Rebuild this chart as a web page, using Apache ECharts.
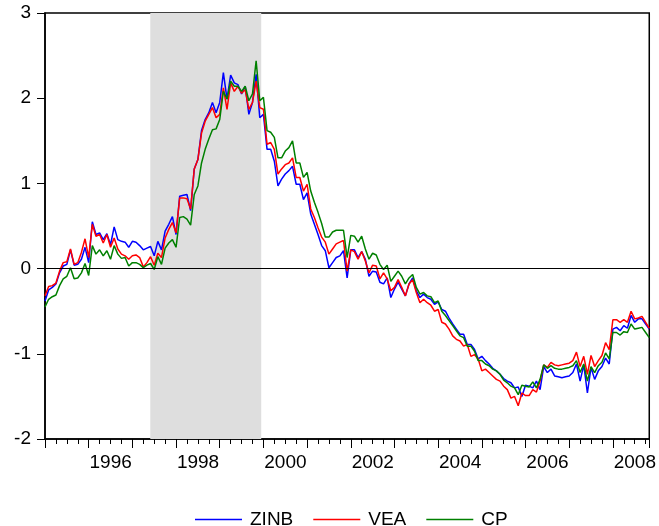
<!DOCTYPE html>
<html>
<head>
<meta charset="utf-8">
<script src="https://cdn.jsdelivr.net/npm/echarts@6/dist/echarts.min.js"></script>
<style>
html,body{margin:0;padding:0;background:#fff;}
#chart{width:659px;height:526px;}
</style>
</head>
<body>
<div id="chart"></div>
<script>
// Monthly observations starting 1995M01
const startYear = 1995;
const seriesNames = ['ZINB', 'VEA', 'CP'];
const seriesColors = ['#0000ff', '#ff0000', '#008000'];
const yTicks = [-2, -1, 0, 1, 2, 3];
const xLabelYears = [1996, 1998, 2000, 2002, 2004, 2006, 2008];
const shadeStart = 1997.41;
const shadeEnd = 1999.95;

const zinb = [
 -0.38,-0.25,-0.22,-0.18,-0.05,0.03,0.05,0.22,0.04,0.05,0.11,0.25,
 0.07,0.55,0.40,0.42,0.34,0.41,0.28,0.49,0.34,0.32,0.31,0.25,
 0.32,0.31,0.27,0.22,0.24,0.26,0.15,0.32,0.22,0.44,0.52,0.61,
 0.40,0.85,0.86,0.87,0.68,1.17,1.28,1.62,1.75,1.83,1.95,1.83,
 1.95,2.30,1.99,2.27,2.18,2.16,2.05,2.14,1.81,1.95,2.28,1.77,
 1.81,1.40,1.40,1.26,0.97,1.05,1.11,1.15,1.20,0.99,0.99,0.81,
 0.89,0.64,0.52,0.40,0.27,0.21,0.01,0.07,0.13,0.15,0.21,-0.11,
 0.22,0.22,0.13,0.20,0.11,-0.09,-0.03,-0.04,-0.16,-0.18,-0.11,-0.34,
 -0.24,-0.16,-0.24,-0.32,-0.18,-0.11,-0.26,-0.34,-0.30,-0.34,-0.36,-0.42,
 -0.39,-0.48,-0.50,-0.58,-0.65,-0.71,-0.77,-0.77,-0.89,-0.89,-0.95,-1.06,
 -1.03,-1.08,-1.12,-1.17,-1.20,-1.24,-1.29,-1.32,-1.34,-1.40,-1.39,-1.50,
 -1.37,-1.38,-1.40,-1.32,-1.42,-1.15,-1.22,-1.18,-1.26,-1.27,-1.28,-1.27,
 -1.26,-1.22,-1.12,-1.32,-1.13,-1.46,-1.16,-1.30,-1.20,-1.15,-1.05,-1.12,
 -0.71,-0.69,-0.73,-0.67,-0.70,-0.55,-0.63,-0.59,-0.59,-0.65,-0.71
];
const vea = [
 -0.32,-0.21,-0.20,-0.17,-0.03,0.07,0.08,0.23,0.05,0.07,0.19,0.35,
 0.13,0.52,0.38,0.40,0.30,0.40,0.25,0.36,0.23,0.17,0.15,0.11,
 0.15,0.16,0.13,0.02,0.07,0.14,0.04,0.18,0.13,0.36,0.46,0.54,
 0.42,0.83,0.83,0.82,0.70,1.17,1.28,1.59,1.73,1.81,1.89,1.77,
 1.81,2.12,1.87,2.18,2.08,2.14,2.06,2.10,1.87,1.95,2.20,1.89,
 1.87,1.46,1.48,1.40,1.11,1.17,1.22,1.24,1.30,1.07,1.07,0.91,
 0.99,0.70,0.60,0.48,0.37,0.31,0.17,0.23,0.29,0.31,0.33,-0.03,
 0.22,0.20,0.11,0.20,0.09,-0.05,0.04,0.03,-0.12,-0.05,-0.12,-0.26,
 -0.22,-0.13,-0.22,-0.32,-0.18,-0.13,-0.28,-0.40,-0.36,-0.40,-0.43,-0.50,
 -0.48,-0.63,-0.65,-0.71,-0.79,-0.83,-0.85,-0.91,-0.89,-1.03,-1.01,-1.06,
 -1.20,-1.18,-1.22,-1.26,-1.30,-1.32,-1.38,-1.42,-1.52,-1.50,-1.61,-1.46,
 -1.49,-1.49,-1.42,-1.45,-1.32,-1.13,-1.16,-1.10,-1.13,-1.14,-1.13,-1.12,
 -1.11,-1.08,-0.98,-1.15,-1.03,-1.24,-1.02,-1.15,-1.08,-1.02,-0.87,-0.95,
 -0.60,-0.60,-0.63,-0.60,-0.63,-0.50,-0.59,-0.58,-0.56,-0.63,-0.70
];
const cp = [
 -0.45,-0.36,-0.33,-0.31,-0.20,-0.12,-0.09,0.01,-0.12,-0.11,-0.05,0.06,
 -0.08,0.27,0.17,0.22,0.15,0.21,0.11,0.27,0.17,0.12,0.13,0.03,
 0.07,0.07,0.05,0.01,0.04,0.06,-0.01,0.14,0.05,0.24,0.30,0.34,
 0.25,0.60,0.61,0.58,0.51,0.87,0.97,1.24,1.40,1.52,1.63,1.64,
 1.75,2.08,1.99,2.20,2.14,2.14,2.08,2.14,1.97,2.05,2.44,1.97,
 2.01,1.62,1.60,1.54,1.30,1.30,1.38,1.42,1.50,1.24,1.24,1.07,
 1.13,0.91,0.78,0.66,0.53,0.37,0.37,0.43,0.45,0.45,0.45,0.13,
 0.39,0.38,0.31,0.38,0.23,0.11,0.18,0.16,0.05,-0.01,0.04,-0.15,
 -0.09,-0.03,-0.09,-0.18,-0.11,-0.07,-0.22,-0.30,-0.28,-0.32,-0.33,-0.40,
 -0.38,-0.50,-0.55,-0.61,-0.67,-0.73,-0.79,-0.81,-0.91,-0.91,-0.97,-1.08,
 -1.08,-1.12,-1.14,-1.18,-1.20,-1.24,-1.31,-1.34,-1.38,-1.40,-1.48,-1.37,
 -1.38,-1.39,-1.33,-1.40,-1.30,-1.13,-1.17,-1.14,-1.17,-1.18,-1.18,-1.17,
 -1.16,-1.14,-1.08,-1.22,-1.12,-1.32,-1.15,-1.22,-1.14,-1.10,-0.99,-1.06,
 -0.75,-0.75,-0.78,-0.74,-0.75,-0.65,-0.71,-0.70,-0.69,-0.75,-0.81
];

// dates (decimal years) for each monthly observation
const dates = zinb.map((_, i) => startYear + i / 12);
const allSeries = [zinb, vea, cp];

const chart = echarts.init(document.getElementById('chart'), null, {renderer: 'canvas'});
const FONT = 'Liberation Sans, Arial, Helvetica, sans-serif';

const lineSeries = allSeries.map((vals, k) => ({
  name: seriesNames[k],
  type: 'line',
  data: vals.map((v, i) => [dates[i], v]),
  symbol: 'none',
  showSymbol: false,
  z: 3,
  lineStyle: {color: seriesColors[k], width: 1.5},
  itemStyle: {color: seriesColors[k]},
  emphasis: {disabled: true},
  animation: false
}));

const helper = {
  name: '_shade',
  type: 'line',
  data: [],
  z: 1,
  silent: true,
  animation: false,
  markArea: {
    silent: true,
    itemStyle: {color: '#dedede'},
    data: [[{xAxis: shadeStart}, {xAxis: shadeEnd}]]
  },
  markLine: {
    silent: true,
    symbol: ['none', 'none'],
    label: {show: false},
    lineStyle: {color: '#000', width: 1.2, type: 'solid'},
    data: [{yAxis: 0}]
  }
};

chart.setOption({
  animation: false,
  backgroundColor: '#ffffff',
  grid: {left: 45, right: 9, top: 13, bottom: 87, show: true, borderColor: '#000', borderWidth: 1.5, backgroundColor: 'transparent'},
  legend: {
    data: seriesNames.map((n, k) => ({name: n, icon: 'rect', itemStyle: {color: seriesColors[k]}})),
    left: 190,
    top: 505,
    itemWidth: 47,
    itemHeight: 1.5,
    itemGap: 20,
    textStyle: {fontFamily: FONT, fontSize: 19, color: '#000', padding: [0, 0, 0, 3]}
  },
  xAxis: {
    type: 'value',
    min: startYear,
    max: startYear + (zinb.length - 1) / 12,
    interval: 1,
    axisLine: {show: true, onZero: false, lineStyle: {color: '#000', width: 1.5}},
    axisTick: {show: true, inside: false, length: 9, lineStyle: {color: '#000', width: 1}},
    minorTick: {show: true, splitNumber: 4, length: 5, lineStyle: {color: '#000', width: 1}},
    splitLine: {show: false},
    axisLabel: {
      fontFamily: FONT, fontSize: 19, color: '#000', margin: 14,
      padding: [0, 0, 0, 44],
      formatter: v => xLabelYears.includes(Math.round(v)) && Math.abs(v - Math.round(v)) < 1e-6 ? String(Math.round(v)) : ''
    }
  },
  yAxis: {
    type: 'value',
    min: yTicks[0],
    max: yTicks[yTicks.length - 1],
    interval: 1,
    axisLine: {show: true, lineStyle: {color: '#000', width: 1.5}},
    axisTick: {show: true, inside: false, length: 8, lineStyle: {color: '#000', width: 1}},
    splitLine: {show: false},
    axisLabel: {fontFamily: FONT, fontSize: 19, color: '#000', margin: 14}
  },
  series: [helper].concat(lineSeries)
});
</script>
</body>
</html>
